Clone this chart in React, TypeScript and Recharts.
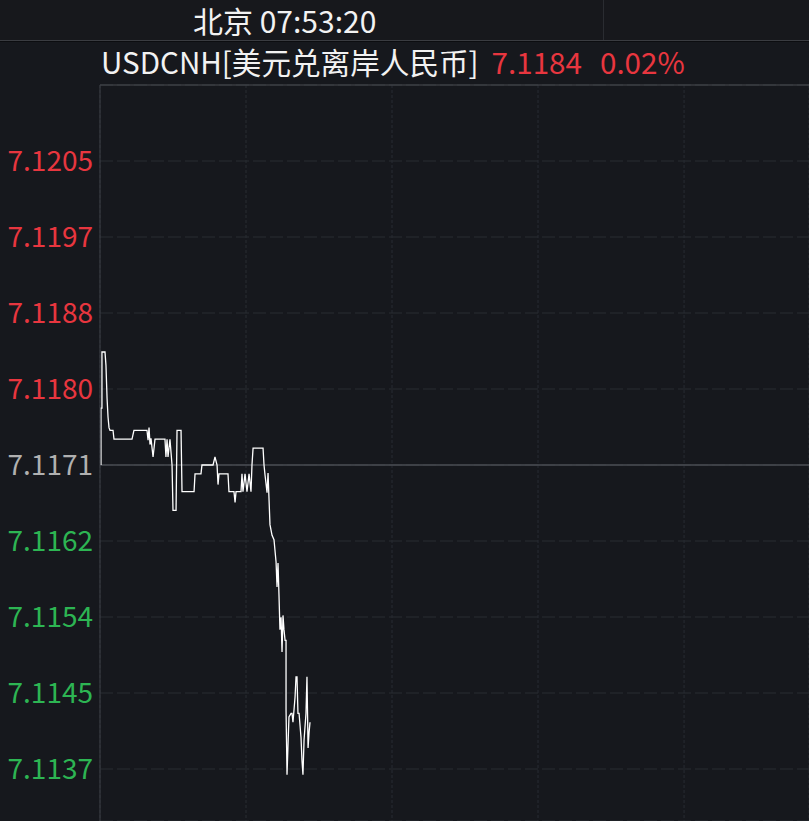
import React from "react";
import { LineChart, Line, XAxis, YAxis, CartesianGrid, ReferenceLine } from "recharts";

// minutes since session start (05:00)
const times = [
  0.8, 0.8, 1.6, 1.6, 4.1, 4.9, 5.8, 6.6, 7.4, 8.2, 10.7, 11.5, 26.3, 27.9, 38.6, 39.5, 40.3, 41.1, 41.9, 43.6,
  45.2, 53.4, 54.2, 55.1, 55.9, 57.5, 59.2, 60.0, 62.5, 63.3, 66.6, 67.4, 77.3, 78.1, 83.0, 83.8, 92.9, 94.5, 96.2, 97.0,
  97.8, 105.2, 106.0, 110.1, 111.0, 111.8, 115.9, 116.7, 117.5, 119.2, 120.8, 122.5, 124.1, 124.9, 125.8, 134.0, 134.8, 135.6, 137.3, 138.1,
  139.7, 141.4, 143.0, 144.7, 145.5, 146.3, 147.1, 147.9, 148.8, 149.6, 150.4, 151.2, 152.1, 152.9, 152.9, 153.7, 155.3, 157.0, 157.8, 158.6,
  160.3, 161.1, 161.9, 162.7, 163.6, 165.2, 166.0, 166.8, 167.7, 169.3, 170.1, 171.0, 171.8, 172.6,
];

const prices = [
  7.1171, 7.11774, 7.11774, 7.11837, 7.11837, 7.11822, 7.11785, 7.11764, 7.11752, 7.11749, 7.11749, 7.11739, 7.11739, 7.11749, 7.11749, 7.11738, 7.11752, 7.11733, 7.1174, 7.11719,
  7.11739, 7.11739, 7.11719, 7.11739, 7.11719, 7.11739, 7.1171, 7.11659, 7.11659, 7.11749, 7.11749, 7.1168, 7.1168, 7.117, 7.117, 7.1171, 7.1171, 7.11719, 7.1171, 7.11688,
  7.117, 7.117, 7.1168, 7.1168, 7.11668, 7.1168, 7.1168, 7.117, 7.1168, 7.117, 7.1168, 7.117, 7.1168, 7.1171, 7.11729, 7.11729, 7.1171, 7.11699, 7.11679, 7.11701,
  7.11643, 7.11631, 7.11626, 7.11601, 7.11573, 7.116, 7.11564, 7.11525, 7.11539, 7.115, 7.11541, 7.11525, 7.11513, 7.11513, 7.11435, 7.11362, 7.11427, 7.11431, 7.11431, 7.11421,
  7.11449, 7.11472, 7.11472, 7.11431, 7.11431, 7.11404, 7.11378, 7.11362, 7.11401, 7.11431, 7.11472, 7.11392, 7.11409, 7.11421,
];

const prevClose = 7.1171;
const step = 0.000854;
const stepsUp = [1, 2, 3, 4];
const stepsDown = [-1, -2, -3, -4];
const yTicks = [...stepsDown, 0, ...stepsUp].map((k) => prevClose + k * step);
const yMax = prevClose + 5 * step;
const yMin = prevClose - 4.684 * step;
const xTicks = [0, 120, 240, 360, 480];
const xMax = 582.7;

const headerTime = "北京 07:53:20";
const symbolName = "USDCNH[美元兑离岸人民币]";
const lastPrice = "7.1184";
const changePct = "0.02%";

const data = times.map((t, i) => ({ t, price: prices[i] }));

const RED = "#e8363f";
const GREEN = "#2db553";
const GREY = "#b0b0b0";
const FONT = '"Noto Sans CJK SC", "Noto Sans", sans-serif';

const PriceTick = (props: any) => {
  const { x, y, payload } = props;
  const v = payload.value;
  const fill = Math.abs(v - prevClose) < 1e-7 ? GREY : v > prevClose ? RED : GREEN;
  return (
    <text x={x} y={y} dy="0.36em" textAnchor="end" fill={fill} fontSize={28} fontFamily={FONT}>
      {v.toFixed(4)}
    </text>
  );
};

export default function App() {
  return (
    <div
      style={{
        position: "absolute",
        top: 0,
        left: 0,
        width: 809,
        height: 821,
        overflow: "hidden",
        background: "#16181d",
        fontFamily: FONT,
      }}
    >
      <div style={{ position: "absolute", top: 0, left: 0, width: 809, height: 40, background: "#17181c" }} />
      <div style={{ position: "absolute", top: 40, left: 0, width: 809, height: 1, background: "#3a3c41" }} />
      <div style={{ position: "absolute", top: 41, left: 0, width: 809, height: 1, background: "#0c0d10" }} />
      <div style={{ position: "absolute", top: 0, left: 603, width: 1, height: 40, background: "#2a2c31" }} />
      <div
        style={{
          position: "absolute",
          top: 0,
          left: 193,
          height: 40,
          fontSize: 30,
          lineHeight: "40px",
          color: "#f2f2f2",
          whiteSpace: "nowrap",
        }}
      >
        {headerTime}
      </div>
      <div
        style={{
          position: "absolute",
          top: 43,
          left: 101,
          fontSize: 29.6,
          lineHeight: "38px",
          color: "#f2f2f2",
          whiteSpace: "nowrap",
        }}
      >
        {symbolName}
        <span style={{ color: RED, marginLeft: 13 }}>{lastPrice}</span>
        <span style={{ color: RED, marginLeft: 18 }}>{changePct}</span>
      </div>
      <div style={{ position: "absolute", top: 0, left: 0 }}>
        <LineChart width={809} height={821} data={data} margin={{ top: 85, right: 0, bottom: 0, left: 0 }}>
          <CartesianGrid horizontal={true} vertical={false} stroke="#282c33" strokeDasharray="13 4" />
          <CartesianGrid horizontal={false} vertical={true} stroke="#282c33" strokeDasharray="3 2" />
          <XAxis dataKey="t" type="number" domain={[0, xMax]} ticks={xTicks} allowDataOverflow hide />
          <YAxis
            type="number"
            domain={[yMin, yMax]}
            ticks={yTicks}
            interval={0}
            width={100}
            allowDataOverflow
            axisLine={{ stroke: "#3c3f46" }}
            tickLine={false}
            tickSize={0}
            tickMargin={7}
            tick={<PriceTick />}
          />
          <ReferenceLine y={prevClose} stroke="#4a4d53" strokeWidth={1.5} />
          <ReferenceLine y={yMax} stroke="#4a4d53" strokeWidth={1.2} />
          <Line
            type="linear"
            dataKey="price"
            stroke="#ffffff"
            strokeWidth={1.3}
            dot={false}
            isAnimationActive={false}
          />
        </LineChart>
      </div>
    </div>
  );
}
